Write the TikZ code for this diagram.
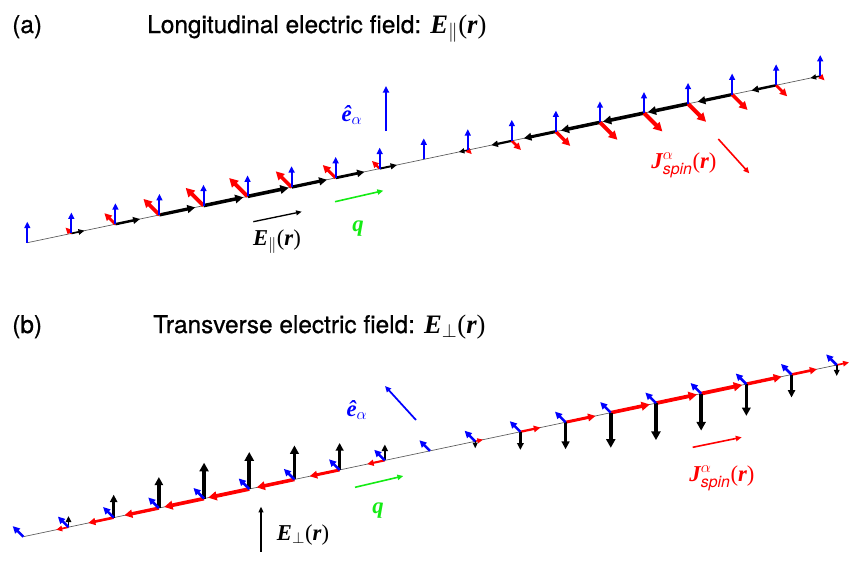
\documentclass[tikz,border=0pt]{standalone}
\usepackage{fontspec}
\setmainfont{TeX Gyre Heros}
\newfontfamily\ttlfont[FakeBold=0.7]{TeX Gyre Heros}
\newfontfamily\tms{Liberation Serif}
\usetikzlibrary{arrows.meta}
\definecolor{qgreen}{RGB}{20,235,20}
\definecolor{pblue}{RGB}{0,0,255}
\definecolor{pred}{RGB}{255,0,0}
\definecolor{chaingray}{RGB}{90,90,90}
\newcommand{\bi}[1]{{\tms\bfseries\itshape #1}}
\newcommand{\rmp}[1]{{\tms #1}}
\newcommand{\bigmath}[1]{{\fontsize{20}{22}\selectfont #1}}
\tikzset{
  vec/.style={-{Triangle[length=3pt 1.2,width=2pt 1.6]}},
  chainline/.style={draw=chaingray, line width=0.5pt},
  ttl/.style={anchor=base west, inner sep=0pt, font=\ttlfont\fontsize{18.3}{20}\selectfont},
  lbl/.style={inner sep=0pt, font=\fontsize{17}{19}\selectfont},
}
\def\Sa{0,.32,.6,.87,.97,1,.86,.7,.42,0,-.22,-.5,-.78,-.95,-1,-.98,-.84,-.6,-.24}
\def\Sb{0,.3,.62,.84,.97,1,.92,.73,.43,0,-.19,-.49,-.73,-.95,-1,-1,-.86,-.62,-.3}
\begin{document}
\begin{tikzpicture}[x=0.75pt,y=-0.75pt]
\useasboundingbox (0,0) rectangle (864,576);
% ---------------- panel (a) ----------------
\node[ttl] (la) at (12,33) {(a)};
\node[ttl] (ta) at (147,33) {Longitudinal electric field: \bigmath{\bi{E}$_{\|}$\rmp{(}\bi{r}\rmp{)}}};
\coordinate (A0) at (27.3,242.7);
\coordinate (A18) at (820.2,76);
\draw[chainline] (A0) -- (A18);
\foreach \s [count=\k from 0] in \Sa {
  \pgfmathsetmacro\px{27.3+44.05*\k}
  \pgfmathsetmacro\py{242.7-9.26*\k}
  \coordinate (a\k) at (\px,\py);
  \pgfmathsetmacro\am{abs(\s)}
  \ifdim \am pt>0.01pt
    \pgfmathsetmacro\lwk{0.75*(0.8+2.8*\am)}
    \pgfmathsetmacro\dxk{0.9787*42*\s}
    \pgfmathsetmacro\dyk{-0.2057*42*\s}
    \draw[black, line width=\lwk pt, vec] (a\k) -- ++(\dxk,\dyk);
    \pgfmathsetmacro\lwr{0.75*(1+3*\am)}
    \pgfmathsetmacro\rxk{-0.707*26*\s}
    \draw[pred, line width=\lwr pt, vec] (a\k) -- ++(\rxk,\rxk);
  \fi
  \draw[pblue, line width=1.5pt, vec] (a\k) -- ++(0,-21);
}
% legend (a)
\coordinate (ea1) at (386,131); \coordinate (ea2) at (386,86);
\draw[pblue, line width=1.6pt, vec] (ea1) -- (ea2);
\node[lbl, text=pblue] (nea) at (352,115) {\bi{\^e}$_{\alpha}$};
\coordinate (Ea1) at (253.3,221.7); \coordinate (Ea2) at (301.7,211.7);
\draw[black, line width=1pt, vec] (Ea1) -- (Ea2);
\node[lbl] (nEa) at (277,242) {\bi{E}$_{\|}$\rmp{(}\bi{r}\rmp{)}};
\coordinate (qa1) at (335,201.7); \coordinate (qa2) at (383.3,190.7);
\draw[qgreen, line width=1.2pt, vec] (qa1) -- (qa2);
\node[lbl, text=qgreen] (nqa) at (358,229) {\bi{q}};
\coordinate (Ja1) at (718.3,139); \coordinate (Ja2) at (749.3,173.3);
\draw[pred, line width=1.2pt, vec] (Ja1) -- (Ja2);
\node[lbl, text=pred] (nJa) at (684,165) {\bi{J}$^{\alpha}_{\mathit{spin}}$\rmp{(}\bi{r}\rmp{)}};
% ---------------- panel (b) ----------------
\node[ttl] (lb) at (12,333) {(b)};
\node[ttl] (tb) at (153,333) {Transverse electric field: \bigmath{\bi{E}$_{\perp}$\rmp{(}\bi{r}\rmp{)}}};
\coordinate (B0) at (23.3,536.7);
\coordinate (B18) at (836.7,365);
\draw[chainline] (B0) -- (B18);
\foreach \s [count=\k from 0] in \Sb {
  \pgfmathsetmacro\px{23.3+45.19*\k}
  \pgfmathsetmacro\py{536.7-9.54*\k}
  \coordinate (b\k) at (\px,\py);
  \pgfmathsetmacro\am{abs(\s)}
  \ifdim \am pt>0.01pt
    \pgfmathsetmacro\lwr{0.75*(0.8+3*\am)}
    \pgfmathsetmacro\dxk{-0.9784*42*\s}
    \pgfmathsetmacro\dyk{0.2065*42*\s}
    \draw[pred, line width=\lwr pt, vec] (b\k) -- ++(\dxk,\dyk);
    \pgfmathsetmacro\lwk{0.75*(0.8+3.2*\am)}
    \pgfmathsetmacro\vyk{-37*\s}
    \draw[black, line width=\lwk pt, vec] (b\k) -- ++(0,\vyk);
  \fi
  \draw[pblue, line width=1.9pt, vec] (b\k) -- ++(-10.6,-10.6);
}
% legend (b)
\coordinate (eb1) at (416,420); \coordinate (eb2) at (385,386);
\draw[pblue, line width=1.3pt, vec] (eb1) -- (eb2);
\node[lbl, text=pblue] (neb) at (357,410) {\bi{\^e}$_{\alpha}$};
\coordinate (Eb1) at (261,551.7); \coordinate (Eb2) at (261,506.7);
\draw[black, line width=1pt, vec] (Eb1) -- (Eb2);
\node[lbl] (nEb) at (303,535) {\bi{E}$_{\perp}$\rmp{(}\bi{r}\rmp{)}};
\coordinate (qb1) at (355,487.3); \coordinate (qb2) at (403.3,476);
\draw[qgreen, line width=1.2pt, vec] (qb1) -- (qb2);
\node[lbl, text=qgreen] (nqb) at (378,511) {\bi{q}};
\coordinate (Jb1) at (692.7,447.3); \coordinate (Jb2) at (741.7,437.3);
\draw[pred, line width=1.2pt, vec] (Jb1) -- (Jb2);
\node[lbl, text=pred] (nJb) at (722,478) {\bi{J}$^{\alpha}_{\mathit{spin}}$\rmp{(}\bi{r}\rmp{)}};
\end{tikzpicture}
\end{document}
